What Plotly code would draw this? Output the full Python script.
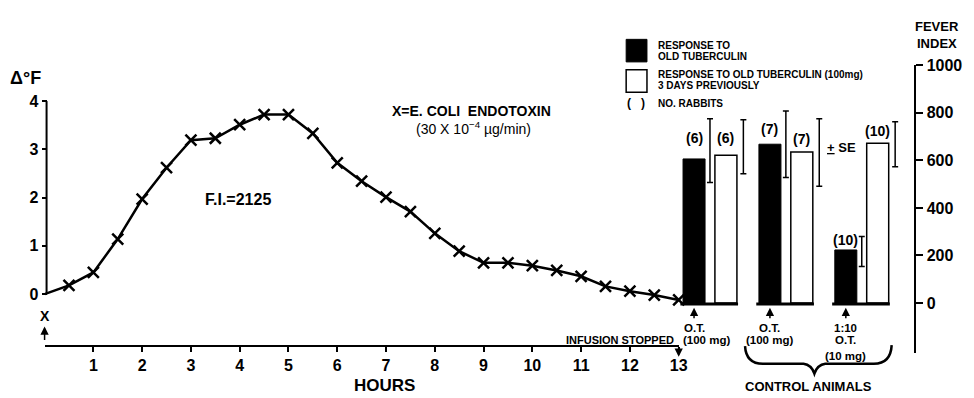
import plotly.graph_objects as go

W, H = 974, 398
FONT = "Liberation Sans"

# ---------------- data ----------------
hours = [0, 0.5, 1, 1.5, 2, 2.5, 3, 3.5, 4, 4.5, 5, 5.5, 6, 6.5, 7, 7.5, 8, 8.5,
         9, 9.5, 10, 10.5, 11, 11.5, 12, 12.5, 13]
delta_f = [0.0, 0.18, 0.45, 1.14, 1.97, 2.62, 3.19, 3.23, 3.51, 3.72, 3.72, 3.33,
           2.72, 2.34, 2.01, 1.71, 1.26, 0.89, 0.65, 0.65, 0.59, 0.49, 0.37, 0.16,
           0.06, -0.02, -0.12]
hour_ticks = list(range(1, 14))
df_ticks = [0, 1, 2, 3, 4]
fi_ticks = [0, 200, 400, 600, 800, 1000]

group_pos = [0, 1, 2]
fi_ot = [606, 668, 223]          # response to old tuberculin (black)
fi_prev = [622, 635, 672]        # response 3 days previously (white)
se_ot_hi = [775, 808, 280]
se_ot_lo = [507, 528, 153]
se_prev_hi = [771, 775, 763]
se_prev_lo = [544, 491, 573]
n_ot = [6, 7, 10]
n_prev = [6, 7, 10]
under_labels = [["O.T."], ["O.T.", "(100 mg)"], ["1:10", "O.T.", "(10 mg)"]]


def px(x):
    return x / W


def py(y):
    return 1 - y / H


# bar axis geometry
G0, GU = 716.6, 76.6       # pixel of group 0 centre, pixels per group
BW = 0.29                  # bar width in group units
OFF_OT, OFF_PREV = -0.355, 0.065
FI_ZERO, FI_SCALE = 301, 0.2425

fig = go.Figure()

# fever curve
fig.add_trace(go.Scatter(x=hours, y=delta_f, mode="lines",
                         line=dict(color="black", width=2.5),
                         xaxis="x", yaxis="y", hoverinfo="skip"))
fig.add_trace(go.Scatter(x=hours[1:], y=delta_f[1:], mode="markers",
                         marker=dict(symbol="x-thin", size=11,
                                     line=dict(width=2.5, color="black")),
                         cliponaxis=False, xaxis="x", yaxis="y"))

# bars
fig.add_trace(go.Bar(x=group_pos, y=fi_ot, width=BW, offset=OFF_OT,
                     marker=dict(color="black", line=dict(color="black", width=1)),
                     xaxis="x2", yaxis="y2"))
fig.add_trace(go.Bar(x=group_pos, y=fi_prev, width=BW, offset=OFF_PREV,
                     marker=dict(color="white", line=dict(color="black", width=1.5)),
                     xaxis="x2", yaxis="y2"))

# SE bars, drawn to the right of each bar
for vals, hi, lo, dx in [(fi_ot, se_ot_hi, se_ot_lo, 0.0),
                         (fi_prev, se_prev_hi, se_prev_lo, 0.44)]:
    fig.add_trace(go.Scatter(
        x=[g + dx for g in group_pos], y=vals, mode="markers",
        marker=dict(size=1, color="rgba(0,0,0,0)"),
        error_y=dict(type="data", symmetric=False,
                     array=[h - v for h, v in zip(hi, vals)],
                     arrayminus=[v - l for v, l in zip(vals, lo)],
                     color="black", thickness=1.5, width=3),
        xaxis="x2", yaxis="y2"))

shapes = []
annotations = []


def txt(text, x, y, size, xanchor="center", bold=True, xref="paper", yref="paper", **kw):
    annotations.append(dict(text=text, x=x, y=y, xref=xref, yref=yref,
                            xanchor=xanchor, yanchor="middle", showarrow=False,
                            font=dict(family=FONT, size=size, color="black",
                                      weight="bold" if bold else "normal"), **kw))


def arrow(x, y, ay, xref="paper"):
    annotations.append(dict(text="", x=x, y=y, xref=xref, yref="paper", ax=0, ay=ay,
                            showarrow=True, arrowhead=2, arrowsize=1.1,
                            arrowwidth=1.5, arrowcolor="black"))


# Delta F axis line
shapes.append(dict(type="line", xref="paper", yref="y", x0=px(47), x1=px(47),
                   y0=0, y1=4, line=dict(color="black", width=2)))

# baselines under bar pairs
for g in group_pos:
    shapes.append(dict(type="line", xref="x2", yref="y2", x0=g - 0.39, x1=g + 0.37,
                       y0=-4, y1=-4, line=dict(color="black", width=3)))

# legend boxes
shapes.append(dict(type="rect", xref="paper", yref="paper", x0=px(632), x1=px(653),
                   y0=py(55), y1=py(32), fillcolor="black", line=dict(color="black", width=1)))
shapes.append(dict(type="rect", xref="paper", yref="paper", x0=px(632), x1=px(653),
                   y0=py(86), y1=py(63), fillcolor="white", line=dict(color="black", width=1.5)))

# curly brace under control animals
brace = [("M", (752, 345)), ("Q", (753, 363), (770, 363)), ("L", (811, 363)),
         ("Q", (819, 364), (822, 373)), ("Q", (825, 364), (833, 363)),
         ("L", (882, 363)), ("Q", (899, 363), (900, 344))]
path = ""
for cmd in brace:
    path += cmd[0] + " " + " ".join(f"{px(p[0]):.5f},{py(p[1]):.5f}" for p in cmd[1:]) + " "
shapes.append(dict(type="path", xref="paper", yref="paper", path=path.strip(),
                   line=dict(color="black", width=2.5)))

# texts
txt("Δ°F", px(26), py(71), 18)
txt("X=E. COLI  ENDOTOXIN", px(476), py(105), 14)
txt("(30 X 10<sup>−4</sup> µg/min)", px(478), py(122), 14, bold=False)
txt("F.I.=2125", px(240), py(195), 16)
txt("HOURS", px(388), py(385), 17)
txt("X", 0, py(314), 14, xref="x")
arrow(0, py(325), 15, xref="x")
arrow(13, py(356), -11, xref="x")

txt("FEVER", px(946), py(19), 13)
txt("INDEX", px(946), py(36), 13)

LEG = 10
txt("RESPONSE TO", px(662), py(38), LEG, xanchor="left")
txt("OLD TUBERCULIN", px(662), py(50), LEG, xanchor="left")
txt("RESPONSE TO OLD TUBERCULIN (100mg)", px(662), py(68), LEG, xanchor="left")
txt("3 DAYS PREVIOUSLY", px(662), py(79), LEG, xanchor="left")
txt("(   )", px(642), py(97), 12)
txt("NO. RABBITS", px(662), py(97), LEG, xanchor="left")

# number of rabbits above bars
shift_ot = [21, 15, 10]
shift_prev = [17, 13, 12]
for g, v, n, s in zip(group_pos, fi_ot, n_ot, shift_ot):
    txt(f"({n})", g + OFF_OT + BW / 2, v, 14, xref="x2", yref="y2", yshift=s)
for g, v, n, s in zip(group_pos, fi_prev, n_prev, shift_prev):
    txt(f"({n})", g + OFF_PREV + BW / 2, v, 14, xref="x2", yref="y2", yshift=s)
txt("<u>+</u> SE", px(849), py(142), 13)

# labels under bars
for g, lines in zip(group_pos, under_labels):
    xc = g + OFF_OT + BW / 2
    arrow(xc, py(306), 12, xref="x2")
    for i, line in enumerate(lines):
        yy = [327, 339, 355][i]
        txt(line, xc, py(yy), 11.5, xref="x2")
txt("INFUSION STOPPED", px(682), py(339), 11, xanchor="right")
txt("(100 mg)", px(713), py(339), 11.5)
txt("CONTROL ANIMALS", px(816), py(386), 13)

tickfont = dict(family=FONT, size=16, color="black", weight="bold")
fig.update_layout(
    width=W, height=H, margin=dict(l=0, r=0, t=0, b=0),
    paper_bgcolor="white", plot_bgcolor="rgba(0,0,0,0)", showlegend=False,
    barmode="overlay", font=dict(family=FONT, color="black"),
    xaxis=dict(domain=[px(45), px(685)], range=[0, 13], anchor="free", position=py(345),
               showline=True, linecolor="black", linewidth=2, ticks="outside", ticklen=5,
               tickwidth=2, tickcolor="black", tickvals=hour_ticks, tickfont=tickfont,
               showgrid=False, zeroline=False),
    yaxis=dict(domain=[py(350), py(95)], range=[-(350 - 292) / 49.25, 4], anchor="free",
               position=px(47), showline=False, ticks="outside", ticklen=5, tickwidth=2,
               tickcolor="black", tickvals=df_ticks, tickfont=tickfont,
               showgrid=False, zeroline=False),
    xaxis2=dict(domain=[0, 1], range=[-G0 / GU, (W - G0) / GU], anchor="y2", visible=False),
    yaxis2=dict(domain=[py(352), py(FI_ZERO - 1000 * FI_SCALE)],
                range=[-(352 - FI_ZERO) / FI_SCALE, 1000], anchor="free", position=px(924),
                side="right", showline=True, linecolor="black", linewidth=2,
                ticks="outside", ticklen=7, tickwidth=2, tickcolor="black",
                tickvals=fi_ticks, tickfont=dict(family=FONT, size=16, color="black", weight="bold"),
                showgrid=False, zeroline=False),
    shapes=shapes, annotations=annotations,
)

fig.write_html("out.html")
